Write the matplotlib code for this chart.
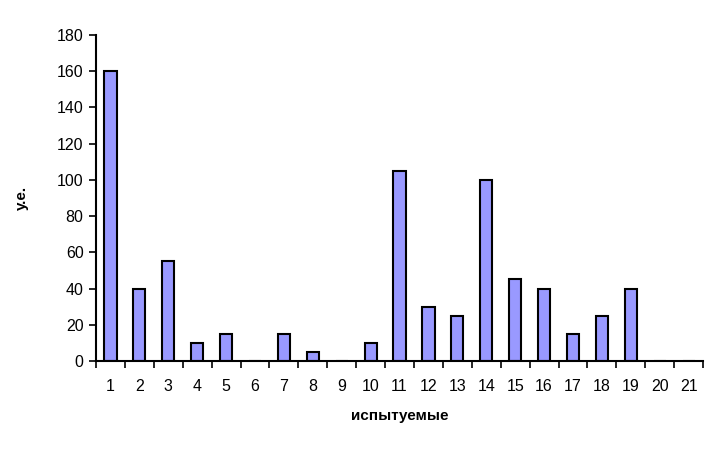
import matplotlib.pyplot as plt
import numpy as np

plt.rcParams['font.family'] = ['Liberation Sans', 'DejaVu Sans']

subjects = [str(i) for i in range(1, 22)]
values = [160, 40, 55, 10, 15, 0, 15, 5, 0, 10, 105, 30, 25, 100, 45, 40, 15, 25, 40, 0, 0]
y_ticks = [0, 20, 40, 60, 80, 100, 120, 140, 160, 180]

fig = plt.figure(figsize=(7.23, 4.55), dpi=100)
ax = fig.add_axes([0.1328, 0.2066, 0.8396, 0.7165])

x = np.arange(len(subjects))
ax.bar(x, values, width=0.42, color="#9999FF", edgecolor="black", linewidth=1.5)

ax.set_xlim(-0.5, len(subjects) - 0.5)
ax.set_ylim(0, 180)
ax.set_yticks(y_ticks)
ax.set_xticks(x)
ax.set_xticklabels(subjects)
ax.set_xticks(np.arange(-0.5, len(subjects)), minor=True)
ax.tick_params(axis="x", which="major", length=0, pad=13, labelsize=11.5)
ax.tick_params(axis="x", which="minor", length=5, width=1.2, direction="out")
ax.tick_params(axis="y", length=5, width=1.2, direction="out", labelsize=11.5, pad=4)

for side in ["top", "right"]:
    ax.spines[side].set_visible(False)
for side in ["left", "bottom"]:
    ax.spines[side].set_linewidth(1.5)

ax.set_xlabel("испытуемые", fontsize=11, fontweight="bold", labelpad=11)
ax.set_ylabel("у.е.", fontsize=11, fontweight="bold")
ax.yaxis.set_label_coords(-0.11, 0.5)

fig.savefig("out.png", dpi=100)
